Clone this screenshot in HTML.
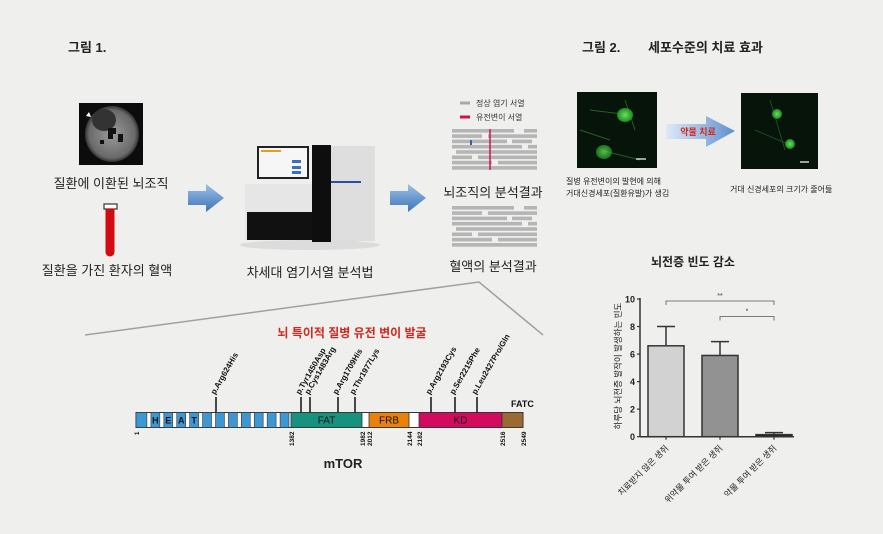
<!DOCTYPE html>
<html><head><meta charset="utf-8"><style>
html,body{margin:0;padding:0;background:#efefee;}
svg{display:block;font-family:"Liberation Sans","Noto Sans CJK KR",sans-serif;}
</style></head><body>
<svg width="883" height="534" viewBox="0 0 883 534" xmlns="http://www.w3.org/2000/svg">
<defs>
<linearGradient id="ba" x1="0" y1="0" x2="0" y2="1"><stop offset="0" stop-color="#9cc0e6"/><stop offset="1" stop-color="#3d74b8"/></linearGradient>
<linearGradient id="ta" x1="0" y1="0" x2="1" y2="0"><stop offset="0" stop-color="#dfeaf7"/><stop offset="1" stop-color="#5e8fcf"/></linearGradient>
<radialGradient id="cell" cx="0.5" cy="0.5" r="0.5"><stop offset="0" stop-color="#6fe05a"/><stop offset="1" stop-color="#1a8a25"/></radialGradient>
<radialGradient id="brain" cx="0.5" cy="0.5" r="0.5"><stop offset="0" stop-color="#9a9a9a"/><stop offset="0.85" stop-color="#6a6a6a"/><stop offset="1" stop-color="#333"/></radialGradient>
</defs>
<rect width="883" height="534" fill="#efefee"/>
<text x="68" y="52" font-size="13" font-weight="bold" fill="#222">그림 1.</text>
<text x="582" y="52" font-size="13" font-weight="bold" fill="#222">그림 2.</text>
<text x="648" y="52" font-size="13" font-weight="bold" fill="#222">세포수준의 치료 효과</text>

<g>
<rect x="79" y="103" width="64" height="62" fill="#0c0c0c"/>
<ellipse cx="112" cy="134" rx="27" ry="28" fill="url(#brain)"/>
<ellipse cx="104" cy="120" rx="12" ry="11" fill="#333"/>
<path d="M108 128 h8 v6 h-3 v5 h-5 z M118 134 h5 v8 h-5z M100 140 h4 v4 h-4z" fill="#111"/>
<polygon points="86,116 89,112 91,117" fill="#fff"/>
</g>
<text x="111" y="188" font-size="13" text-anchor="middle" fill="#222">질환에 이환된 뇌조직</text>
<g>
<rect x="104" y="204" width="13" height="5" fill="#fff" stroke="#333" stroke-width="1.2"/>
<path d="M105.5 209 H114.5 V252 A4.5 4.5 0 0 1 105.5 252 Z" fill="#d20a12"/>
</g>
<text x="107" y="275" font-size="13" text-anchor="middle" fill="#222">질환을 가진 환자의 혈액</text>

<path d="M188 191 H206 V184 L224 198 L206 212 V205 H188 Z" fill="url(#ba)"/>
<path d="M390 191 H408 V184 L426 198 L408 212 V205 H390 Z" fill="url(#ba)"/>

<g>
<ellipse cx="310" cy="245" rx="70" ry="5" fill="#dcdcdc"/>
<rect x="245" y="184" width="68" height="56" fill="#e6e6e6"/>
<rect x="247" y="212" width="66" height="28" fill="#111"/>
<rect x="257" y="146" width="52" height="33" fill="#222"/>
<rect x="259" y="148" width="48" height="29" fill="#f6f6f6"/>
<rect x="261" y="150" width="20" height="2" fill="#e0a020"/>
<rect x="292" y="160" width="9" height="3" fill="#3b70c0"/><rect x="292" y="166" width="9" height="3" fill="#3b70c0"/><rect x="292" y="171" width="9" height="3" fill="#3b70c0"/>
<rect x="312" y="145" width="19" height="97" fill="#0e0e0e"/>
<rect x="331" y="146" width="44" height="95" fill="#dedede"/>
<rect x="331" y="181" width="30" height="2" fill="#2a4fa8"/>
</g>
<text x="310" y="277" font-size="13" text-anchor="middle" fill="#222">차세대 염기서열 분석법</text>

<line x1="460" y1="103" x2="470" y2="103" stroke="#aaa" stroke-width="3"/>
<text x="476" y="106" font-size="8" fill="#333">정상 염기 서열</text>
<line x1="460" y1="117" x2="470" y2="117" stroke="#d0105a" stroke-width="3"/>
<text x="476" y="120" font-size="8" fill="#333">유전변이 서열</text>
<g id="reads1" fill="#b5b5b5"></g>
<g id="reads2" fill="#b5b5b5"></g>
<line x1="490" y1="129" x2="490" y2="170" stroke="#d0105a" stroke-width="1.5"/>
<rect x="470" y="140" width="2" height="5" fill="#3b5fb0"/>
<text x="493" y="197" font-size="13" text-anchor="middle" fill="#222">뇌조직의 분석결과</text>
<text x="493" y="271" font-size="13" text-anchor="middle" fill="#222">혈액의 분석결과</text>

<polyline points="85,335 479,282 543,335" fill="none" stroke="#a0a0a0" stroke-width="1.5"/>
<text x="352" y="337" font-size="12" font-weight="bold" text-anchor="middle" fill="#d0281e">뇌 특이적 질병 유전 변이 발굴</text>

<g id="mtor"></g>
<text x="343" y="468" font-size="13" font-weight="bold" text-anchor="middle" fill="#222">mTOR</text>
<text x="511" y="407" font-size="9" font-weight="bold" fill="#111">FATC</text>

<g>
<rect x="577" y="92" width="80" height="76" fill="#07140a"/>
<path d="M590 110 L630 115 M625 100 L635 130 M600 150 L640 160 M580 130 L610 140" stroke="#235e27" stroke-width="1" fill="none"/>
<ellipse cx="625" cy="115" rx="8" ry="7" fill="url(#cell)"/>
<ellipse cx="604" cy="152" rx="8" ry="7" fill="url(#cell)" opacity="0.8"/>
<line x1="636" y1="159" x2="646" y2="159" stroke="#fff" stroke-width="1.2"/>
</g>
<g>
<rect x="741" y="93" width="77" height="76" fill="#07140a"/>
<path d="M755 130 L790 145 M770 100 L785 150" stroke="#235a26" stroke-width="0.8" fill="none"/>
<ellipse cx="777" cy="114" rx="5" ry="5" fill="url(#cell)"/>
<ellipse cx="790" cy="144" rx="5" ry="5" fill="url(#cell)"/>
<line x1="800" y1="162" x2="809" y2="162" stroke="#fff" stroke-width="1.2"/>
</g>
<path d="M666 124 H706 V116 L735 131 L706 147 V139 H666 Z" fill="url(#ta)"/>
<text x="698" y="135" font-size="9" font-weight="bold" text-anchor="middle" fill="#d0281e">약물 치료</text>
<text x="566" y="184" font-size="8" fill="#222">질병 유전변이의 발현에 의해</text>
<text x="566" y="196" font-size="8" fill="#222">거대신경세포(질환유발)가 생김</text>
<text x="730" y="192" font-size="8" fill="#222">거대 신경세포의 크기가 줄어듦</text>

<text x="693" y="266" font-size="12" font-weight="bold" text-anchor="middle" fill="#222">뇌전증 빈도 감소</text>
<g id="chart"></g>
</svg>
<script>
const NS='http://www.w3.org/2000/svg';
function mk(p,tag,a,txt){const e=document.createElementNS(NS,tag);for(const k in a)e.setAttribute(k,a[k]);if(txt!=null)e.textContent=txt;p.appendChild(e);return e;}

const readRows=[[0,62,72,85],[0,30,36,85],[0,55,60,80],[0,70,76,85],[4,85],[0,20,26,85],[0,40,46,85],[0,85]];
function drawReads(g,y0){readRows.forEach((r,i)=>{for(let j=0;j<r.length;j+=2){const x1=r[j],x2=r[j+1]!==undefined?r[j+1]:85;
 mk(g,'rect',{x:452+x1,y:y0+i*5.3,width:x2-x1,height:3.6});}});}
drawReads(document.getElementById('reads1'),129);
drawReads(document.getElementById('reads2'),206);

const domainNames=['FAT','FRB','KD','FATC'];
const domainStart=[1382,2012,2182,2516];
const domainEnd=[1982,2144,2516,2549];
const domainColors=['#17927e','#e8820c','#d40a5e','#9a6a35'];
const mutationLabels=['p.Arg624His','p.Tyr1450Asp','p.Cys1483Arg','p.Arg1709His','p.Thr1977Lys','p.Arg2193Cys','p.Ser2215Phe','p.Leu2427Pro/Gln'];
const mutationPos=[624,1450,1483,1709,1977,2193,2215,2427];
const tickResidues=[1,1382,1982,2012,2144,2182,2516,2549];
// diagram is not drawn to scale: piecewise axis knots
const knotR=[1,624,1382,1450,1483,1709,1977,1982,2012,2144,2182,2193,2215,2427,2516,2549];
const knotX=[136,216,291,301,310,338,355,362,369,409,419,431,455,477,502,523];
function rx(r){for(let i=1;i<knotR.length;i++){if(r<=knotR[i]){const t=(r-knotR[i-1])/(knotR[i]-knotR[i-1]);return knotX[i-1]+t*(knotX[i]-knotX[i-1]);}}return knotX[knotX.length-1];}
const mg=document.getElementById('mtor');
const by=412.5,bh=15;
mk(mg,'rect',{x:136,y:by,width:387,height:bh,fill:'#fff',stroke:'#333','stroke-width':1});
const heatN=12,hx0=rx(1),hx1=rx(1382);const hw=(hx1-hx0)/heatN;
const heatL=['','H','E','A','T'];
for(let i=0;i<heatN;i++){const b=mk(mg,'rect',{x:hx0+i*hw+(i?2:0),y:by,width:hw-(i?4:2),height:bh,fill:'#3c97d3',stroke:'#333','stroke-width':0.6});
 
 if(heatL[i]){mk(mg,'text',{x:hx0+i*hw+hw/2,y:by+11,'font-size':9,'font-weight':'bold','text-anchor':'middle',fill:'#111'},heatL[i]);}}
domainNames.forEach((n,i)=>{const x1=rx(domainStart[i]),x2=rx(domainEnd[i]);
 const r=mk(mg,'rect',{x:x1,y:by,width:x2-x1,height:bh,fill:domainColors[i],stroke:'#333','stroke-width':0.8});
 
 if(n!=='FATC')mk(mg,'text',{x:(x1+x2)/2,y:by+11,'font-size':10,'text-anchor':'middle',fill:'#111'},n);});
mutationPos.forEach((p,i)=>{const x=rx(p);
 const l=mk(mg,'line',{x1:x,y1:397,x2:x,y2:by,stroke:'#111','stroke-width':1.5});
 
 const t=mk(mg,'text',{x:x-1,y:395,'font-size':8,'font-weight':'bold',fill:'#111',transform:`rotate(-60 ${x-1} 395)`},mutationLabels[i]);
 });
tickResidues.forEach(r=>{const x=rx(r)+3;
 const t=mk(mg,'text',{x:x,y:by+bh+4,'font-size':6.5,'font-weight':'bold','text-anchor':'end',fill:'#111',transform:`rotate(-90 ${x} ${by+bh+4})`},String(r));
 });

const categories=['치료받지 않은 생쥐','위약물 투여 받은 생쥐','약물 투여 받은 생쥐'];
const values=[6.6,5.9,0.15];
const errors=[8.0,6.9,0.3];
const yTicks=[0,2,4,6,8,10];
const barColors=['#d2d2d2','#929292','#2a2222'];
const cg=document.getElementById('chart');
const X0=640,Y0=436.7,SY=13.77,BW=36,STEP=54,BX=648;
const y=v=>Y0-v*SY;
mk(cg,'line',{x1:X0,y1:y(10)-1,x2:X0,y2:Y0,stroke:'#333','stroke-width':1.5});
mk(cg,'line',{x1:X0,y1:Y0,x2:794,y2:Y0,stroke:'#333','stroke-width':1.5});
yTicks.forEach(v=>{mk(cg,'line',{x1:X0-3,y1:y(v),x2:X0,y2:y(v),stroke:'#333','stroke-width':1.2});
 const t=mk(cg,'text',{x:X0-5,y:y(v)+3.5,'font-size':9,'font-weight':'bold','text-anchor':'end',fill:'#222'},String(v));
 });
values.forEach((v,i)=>{const x=BX+i*STEP;const cx=x+BW/2;
 mk(cg,'line',{x1:cx,y1:y(errors[i]),x2:cx,y2:y(v),stroke:'#333','stroke-width':1.5});
 mk(cg,'line',{x1:cx-9,y1:y(errors[i]),x2:cx+9,y2:y(errors[i]),stroke:'#333','stroke-width':1.5});
 const b=mk(cg,'rect',{x:x,y:y(v),width:BW,height:Y0-y(v),fill:barColors[i],stroke:'#333','stroke-width':1.5});
 
 mk(cg,'line',{x1:cx,y1:Y0,x2:cx,y2:Y0+3,stroke:'#333','stroke-width':1.2});
 const t=mk(cg,'text',{x:cx+3,y:Y0+12,'font-size':8.5,'text-anchor':'end',fill:'#222',transform:`rotate(-45 ${cx+3} ${Y0+12})`},categories[i]);
 });
const yt=mk(cg,'text',{x:621,y:366,'font-size':8.5,'text-anchor':'middle',fill:'#222',transform:'rotate(-90 621 366)'},'하루당 뇌전증 발작이 발생하는 빈도');

function bracket(x1,x2,yy,lab){mk(cg,'path',{d:`M${x1} ${yy+4} V${yy} H${x2} V${yy+4}`,fill:'none',stroke:'#555','stroke-width':0.8});
 const t=mk(cg,'text',{x:(x1+x2)/2,y:yy-3,'font-size':7,'text-anchor':'middle',fill:'#333'},lab);
 }
bracket(BX+BW/2,BX+2*STEP+BW/2,301,'**');
bracket(BX+STEP+BW/2,BX+2*STEP+BW/2,316.5,'*');
</script>
</body></html>
